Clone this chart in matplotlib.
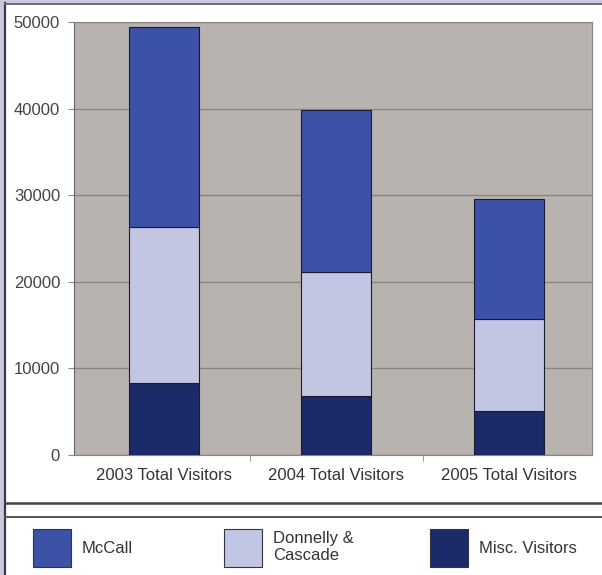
import matplotlib
matplotlib.use('agg')

import matplotlib.pyplot as plt
import matplotlib.patches as mpatches
from matplotlib.lines import Line2D
import numpy as np

plt.rcParams['font.family'] = ['Liberation Sans', 'DejaVu Sans']

categories = ['2003 Total Visitors', '2004 Total Visitors', '2005 Total Visitors']
misc = [8300, 6800, 5100]
donnelly = [18000, 14300, 10600]
mccall = [23100, 18700, 13900]
series_names = ['McCall', 'Donnelly &\nCascade', 'Misc. Visitors']
yticks = [0, 10000, 20000, 30000, 40000, 50000]

c_mccall = '#3b52a6'
c_donnelly = '#c3c6e2'
c_misc = '#1b2a68'

fig = plt.figure(figsize=(6.02, 5.75), dpi=100)
fig.patch.set_facecolor('white')

ax = fig.add_axes([74 / 602, 1 - 455 / 575, 518 / 602, 433 / 575])
ax.set_facecolor('#b9b3b0')

x = np.arange(len(categories))
w = 0.405
ax.bar(x, misc, w, color=c_misc, edgecolor='#1a1a30', linewidth=0.8, zorder=3)
ax.bar(x, donnelly, w, bottom=misc, color=c_donnelly, edgecolor='#1a1a30', linewidth=0.8, zorder=3)
bottom2 = [a + b for a, b in zip(misc, donnelly)]
ax.bar(x, mccall, w, bottom=bottom2, color=c_mccall, edgecolor='#1a1a30', linewidth=0.8, zorder=3)

ax.set_xlim(-0.52, 2.48)
ax.set_ylim(0, 50000)
ax.set_yticks(yticks)
ax.set_yticklabels([str(t) for t in yticks], fontsize=12, color='#444444')
ax.set_xticks(x)
ax.set_xticklabels(categories, fontsize=12, color='#333333')
ax.tick_params(axis='x', length=0, pad=9)
ax.set_xticks([0.5, 1.5], minor=True)
ax.tick_params(axis='x', which='minor', length=4, color='#888888')
ax.tick_params(axis='y', length=4, color='#888888', pad=6)
ax.grid(axis='y', color='#8a8580', linewidth=1, zorder=1)
for s in ax.spines.values():
    s.set_color('#8a8580')
ax.spines['left'].set_color('#666666')

# frame of the scanned page
fig.add_artist(mpatches.Rectangle((0, 0), 4 / 602, 1, transform=fig.transFigure,
                                  facecolor='#c9c9de', edgecolor='none'))
fig.add_artist(mpatches.Rectangle((0, 1 - 3 / 575), 1, 3 / 575, transform=fig.transFigure,
                                  facecolor='#c9c9de', edgecolor='none'))
fig.add_artist(Line2D([5 / 602, 5 / 602], [0, 1 - 3 / 575], transform=fig.transFigure,
                      color='#3a3a44', linewidth=1.6))
fig.add_artist(Line2D([5 / 602, 1], [1 - 4 / 575, 1 - 4 / 575], transform=fig.transFigure,
                      color='#6a6a78', linewidth=1.4))
fig.add_artist(Line2D([5 / 602, 1], [1 - 503 / 575, 1 - 503 / 575], transform=fig.transFigure,
                      color='#444444', linewidth=1.8))
fig.add_artist(Line2D([5 / 602, 1], [1 - 517 / 575, 1 - 517 / 575], transform=fig.transFigure,
                      color='#555555', linewidth=1.4))

# legend, one entry per box
colors = [c_mccall, c_donnelly, c_misc]
anchors = [26 / 602, 217 / 602, 423 / 602]
for name, col, xa in zip(series_names, colors, anchors):
    h = mpatches.Patch(facecolor=col, edgecolor='#333344', linewidth=0.8)
    leg = fig.legend([h], [name], loc='center left', bbox_to_anchor=(xa, 1 - 548 / 575),
                     frameon=False, fontsize=12, handlelength=2.28, handleheight=3.2,
                     handletextpad=0.66, borderaxespad=0, labelspacing=0.2)
    for t in leg.get_texts():
        t.set_color('#333333')

fig.savefig('out.png', dpi=100, facecolor=fig.get_facecolor())
